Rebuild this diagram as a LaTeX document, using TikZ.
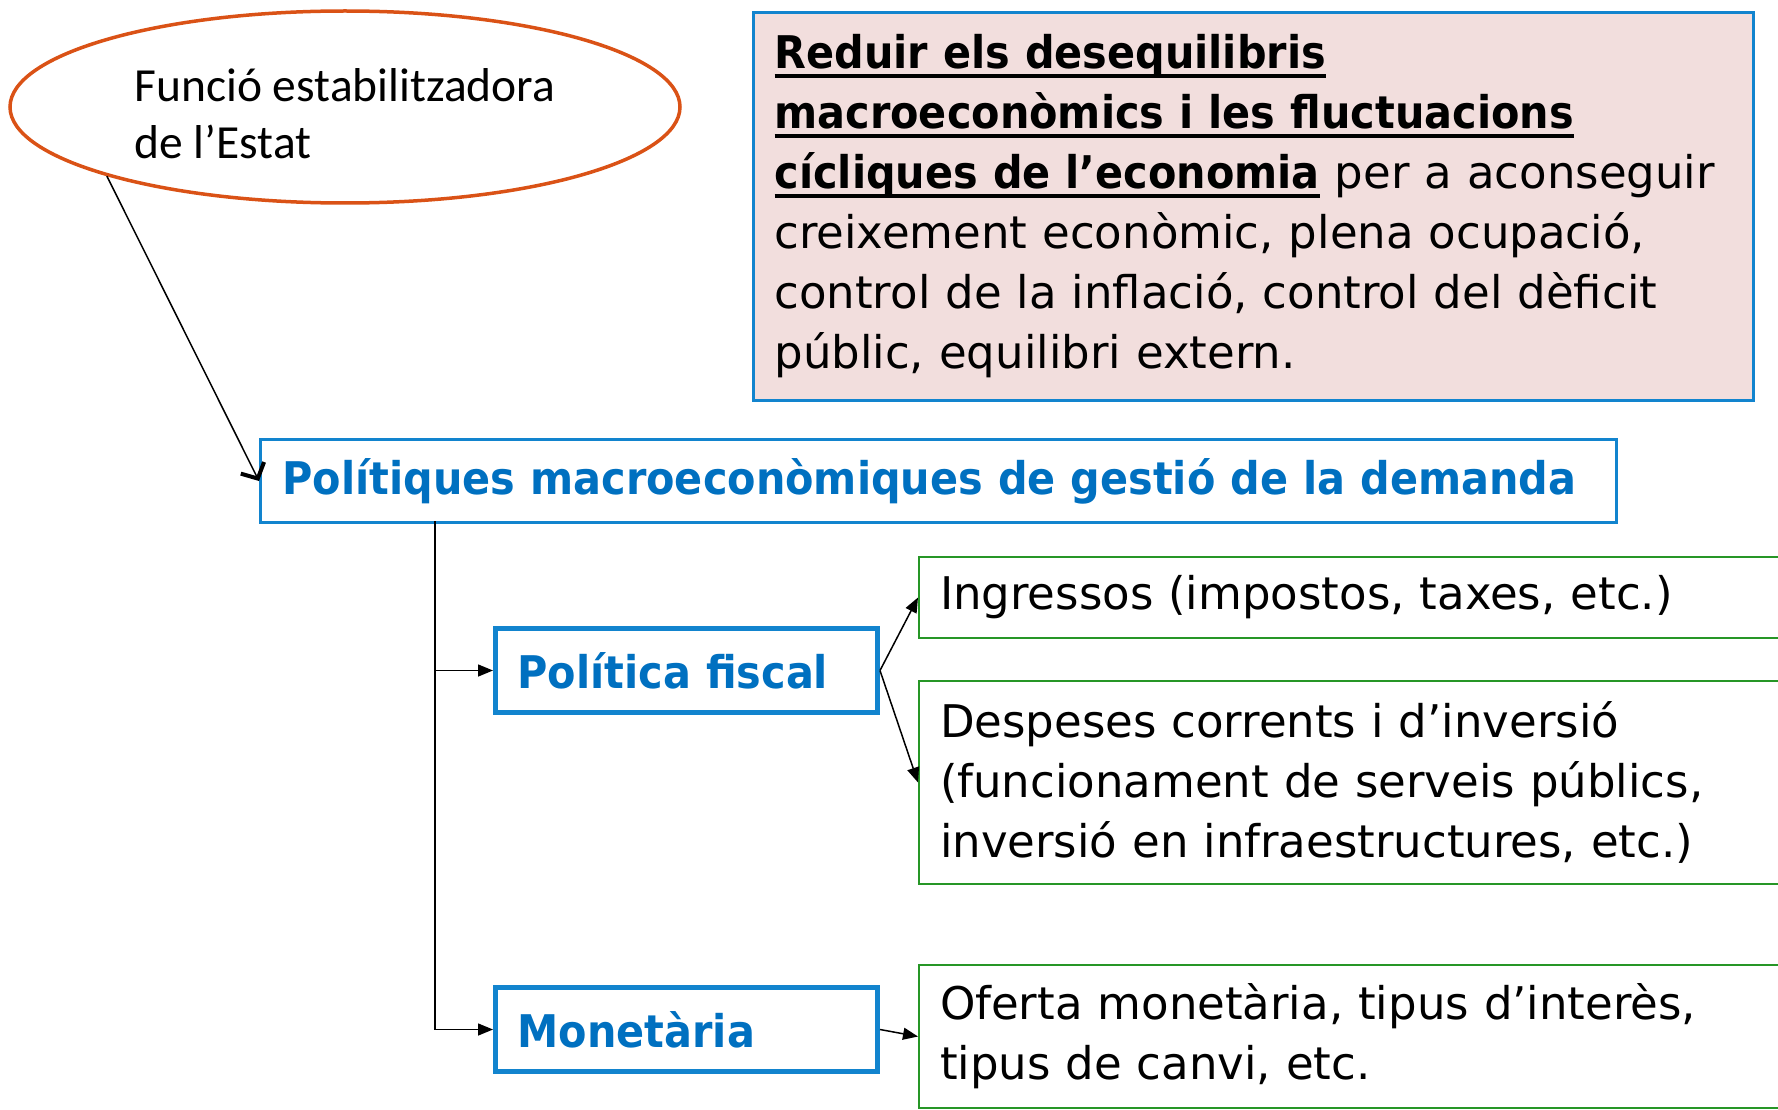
\documentclass[tikz,border=0pt]{standalone}
\usepackage{fontspec}
\setmainfont{DejaVu Sans}[BoldFeatures={FakeStretch=0.92}]
\newfontfamily\calfont{Carlito}
\usetikzlibrary{arrows.meta, positioning, shapes.geometric}

\definecolor{ovalorange}{RGB}{218,82,22}
\definecolor{boxblue}{RGB}{18,132,206}
\definecolor{txtblue}{RGB}{0,112,192}
\definecolor{goalpink}{RGB}{242,222,221}
\definecolor{toolgreen}{RGB}{38,150,38}

% thick underline for the goal text
\newcommand{\goalul}[1]{\leavevmode\setbox0\hbox{#1}\rlap{\rule[-9pt]{\wd0}{3.5pt}}\box0\relax}

\begin{document}
\begin{tikzpicture}[
    x=1pt, y=-1pt,
    ovalnote/.style={ellipse, draw=ovalorange, line width=3.5pt, minimum width=670pt,
                minimum height=192pt, inner sep=0pt, align=left,
                font=\calfont\fontsize{47.5}{57}\selectfont},
    goalbox/.style={draw=boxblue, line width=3pt, fill=goalpink, anchor=north west,
                text width=958pt, minimum height=388pt, inner xsep=21pt, align=left,
                font=\fontsize{45}{60}\selectfont},
    polbox/.style={draw=boxblue, anchor=north west, inner xsep=22pt, align=left,
                text=txtblue, font=\bfseries\fontsize{45}{54}\selectfont},
    toolbox/.style={draw=toolgreen, line width=2pt, anchor=north west, inner xsep=21pt,
                text width=840pt, align=left, font=\fontsize{45}{60}\selectfont},
    arr/.style={-{Triangle[length=15pt, width=12pt]}, line width=1.5pt},
]
    \useasboundingbox (0,0) rectangle (1778,1110);
    \clip (0,0) rectangle (1778,1110);

    \node[ovalnote] (estat) at (345,107) {\rule{0pt}{46pt}Funció estabilitzadora\\de l’Estat};
    \node[goalbox] (goal) at (752,11) {\goalul{\bfseries Reduir els desequilibris}\\
        \goalul{\bfseries macroeconòmics i les fluctuacions}\\
        \goalul{\bfseries cícliques de l’economia} per a aconseguir\\
        creixement econòmic, plena ocupació,\\
        control de la inflació, control del dèficit\\
        públic, equilibri extern.};

    \node[polbox, line width=3pt, text width=1312pt, minimum height=83pt] (macro) at (259,438)
        {Polítiques macroeconòmiques de gestió de la demanda};
    \node[polbox, line width=5pt, text width=338pt, minimum height=84pt] (fiscal) at (493,626)
        {Política fiscal};
    \node[polbox, line width=5pt, text width=338pt, minimum height=84pt] (monet) at (493,985)
        {Monetària};

    \node[toolbox, minimum height=81pt] (ingr) at (918,556) {Ingressos (impostos, taxes, etc.)};
    \node[toolbox, minimum height=203pt] (desp) at (918,680)
        {Despeses corrents i d’inversió\\(funcionament de serveis públics,\\inversió en infraestructures, etc.)};
    \node[toolbox, minimum height=143pt] (ofer) at (918,964)
        {Oferta monetària, tipus d’interès,\\tipus de canvi, etc.};

    \coordinate (trunk) at (435,521);

    \draw[line width=1.5pt, -{Straight Barb[length=12pt, width=26pt, line width=4pt 0]}]
        (estat.south west) -- (macro.west);
    \draw[arr] (trunk) |- (fiscal.west);
    \draw[arr] (trunk) |- (monet.west);
    \draw[arr] (fiscal.east) -- (ingr.west);
    \draw[arr] (fiscal.east) -- (desp.west);
    \draw[arr] (monet.east) -- (ofer.west);
\end{tikzpicture}
\end{document}
